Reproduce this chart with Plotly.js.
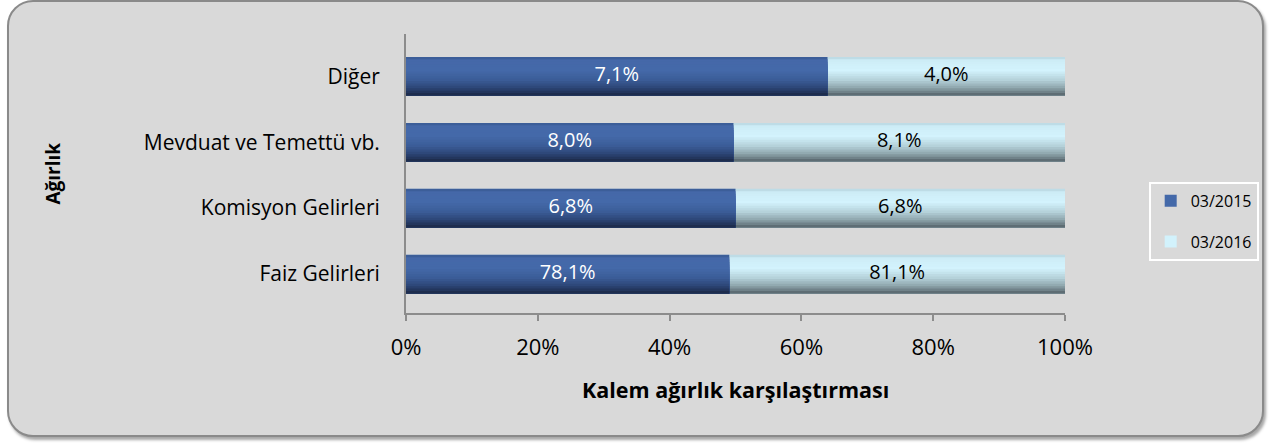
<!DOCTYPE html>
<html>
<head>
<meta charset="utf-8">
<script src="https://cdn.plot.ly/plotly-3.0.1.min.js"></script>
<style>
html,body{margin:0;padding:0;background:#ffffff;}
#wrap{position:relative;width:1269px;height:446px;}
#box{position:absolute;left:7px;top:0px;width:1257px;height:437px;background:#d9d9d9;border:2px solid #8a8a8a;border-radius:26px;box-shadow:2px 3px 3px rgba(0,0,0,0.35);box-sizing:border-box;}
#chart{position:absolute;left:0;top:0;width:1269px;height:446px;}
</style>
</head>
<body>
<div id="wrap"><div id="box"></div><div id="chart"></div></div>
<script>
// ---- data ----
const categories = ['Faiz Gelirleri', 'Komisyon Gelirleri', 'Mevduat ve Temettü vb.', 'Diğer'];
const seriesNames = ['03/2015', '03/2016'];
const values2015 = [78.1, 6.8, 8.0, 7.1];
const values2016 = [81.1, 6.8, 8.1, 4.0];

// ---- styling helpers ----
const FONT = '"Open Sans", Lato, sans-serif';
const gradBlue = [[0,'#37588f'],[0.08,'#4568a9'],[0.35,'#4469a9'],[0.6,'#3b5c97'],[0.8,'#2d4677'],[1,'#1b2846']];
const gradLight = [[0,'#b5d2db'],[0.08,'#cdecf6'],[0.35,'#d3f3fd'],[0.6,'#b4d1d9'],[0.8,'#8fa6ad'],[1,'#55636a']];
function hex2rgb(h){return [parseInt(h.substr(1,2),16),parseInt(h.substr(3,2),16),parseInt(h.substr(5,2),16)];}
function interp(stops,t){
  for(let i=0;i<stops.length-1;i++){
    const a=stops[i],b=stops[i+1];
    if(t>=a[0]&&t<=b[0]){
      const f=(t-a[0])/(b[0]-a[0]);
      const ca=hex2rgb(a[1]),cb=hex2rgb(b[1]);
      const c=ca.map((v,j)=>Math.round(v+(cb[j]-v)*f));
      return 'rgb('+c.join(',')+')';
    }
  }
  return stops[stops.length-1][1];
}
const fmt = v => v.toFixed(1).replace('.', ',') + '%';

// normalized shares (100% stacked), cumulative ends
const totals = values2015.map((v,i)=> v+values2016[i]);
const share1 = values2015.map((v,i)=> v/totals[i]*100);
const share2 = values2016.map((v,i)=> v/totals[i]*100);
const cum2 = share1.map((v,i)=> v+share2[i]);

const N = 16;
const H = 0.585;
const traces = [];
// legend entries first (determine legend order)
traces.push({type:'bar', orientation:'h', y:[null], x:[null], name:seriesNames[0], legendgroup:'a',
  marker:{color:interp(gradBlue,0.3)}, showlegend:true, hoverinfo:'skip'});
traces.push({type:'bar', orientation:'h', y:[null], x:[null], name:seriesNames[1], legendgroup:'b',
  marker:{color:interp(gradLight,0.3)}, showlegend:true, hoverinfo:'skip'});

function addSeries(xs, stops, group){
  // stripes from top (widest) to bottom (narrowest) to build a vertical gradient
  for(let k=N-1;k>=0;k--){
    const t = 1-(k+0.5)/N;
    traces.push({
      type:'bar', orientation:'h', y:categories, x:xs, base:0,
      width:(k+1)*H/N, offset:-H/2,
      marker:{color:interp(stops,t), line:{width:0}},
      legendgroup:group, showlegend:false, hoverinfo:'skip'
    });
  }
}
addSeries(cum2, gradLight, 'b');   // 03/2016 segment (ends at cumulative total)
addSeries(share1, gradBlue, 'a');  // 03/2015 segment drawn over its own part

// data labels
traces.push({
  type:'scatter', mode:'text', y:categories, x:share1.map(v=>v/2),
  text:values2015.map(fmt), textposition:'middle center',
  textfont:{family:FONT, size:20, color:'#ffffff'}, showlegend:false, hoverinfo:'skip', cliponaxis:false
});
traces.push({
  type:'scatter', mode:'text', y:categories, x:share1.map((v,i)=>v+share2[i]/2),
  text:values2016.map(fmt), textposition:'middle center',
  textfont:{family:FONT, size:20, color:'#000000'}, showlegend:false, hoverinfo:'skip', cliponaxis:false
});

const layout = {
  width:1269, height:446,
  paper_bgcolor:'rgba(0,0,0,0)', plot_bgcolor:'rgba(0,0,0,0)',
  margin:{l:406, r:204, t:34, b:133, autoexpand:false},
  barmode:'overlay',
  font:{family:FONT, size:20, color:'#000'},
  xaxis:{
    range:[0,100], dtick:20, tick0:0, ticksuffix:'%',
    showgrid:false, zeroline:false, showline:true, linecolor:'#8c8c8c', linewidth:2,
    ticks:'outside', ticklen:6, tickwidth:2, tickcolor:'#8c8c8c', ticklabelstandoff:8,
    tickfont:{family:FONT, size:22, color:'#000'}, fixedrange:true
  },
  yaxis:{
    type:'category', categoryorder:'array', categoryarray:categories,
    range:[-0.59, 3.64],
    showgrid:false, zeroline:false, showline:true, linecolor:'#8c8c8c', linewidth:2,
    ticks:'', ticklabelstandoff:20,
    tickfont:{family:FONT, size:21, color:'#000'}, fixedrange:true
  },
  legend:{
    x:1.127, y:0.47, xanchor:'left', yanchor:'top',
    bgcolor:'rgba(0,0,0,0)', bordercolor:'#ffffff', borderwidth:2,
    font:{family:FONT, size:16, color:'#000'},
    traceorder:'grouped', tracegroupgap:17, itemwidth:30
  },
  annotations:[
    {text:'<b>Kalem ağırlık karşılaştırması</b>', xref:'paper', yref:'paper', x:0.5, y:-0.275,
     xanchor:'center', yanchor:'middle', showarrow:false, font:{family:FONT, size:21.5, color:'#000'}},
    {text:'<b>Ağırlık</b>', xref:'paper', yref:'paper', x:-0.537, y:0.5, textangle:-90,
     xanchor:'center', yanchor:'middle', showarrow:false, font:{family:FONT, size:19, color:'#000'}}
  ]
};
Plotly.newPlot('chart', traces, layout, {displayModeBar:false, staticPlot:true});
</script>
</body>
</html>
